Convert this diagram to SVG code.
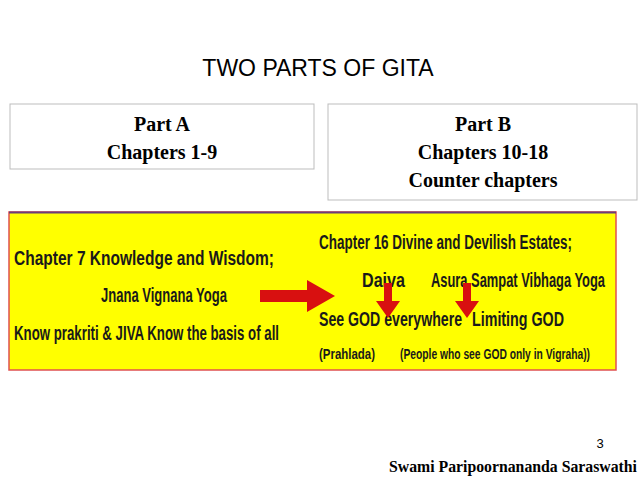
<svg xmlns="http://www.w3.org/2000/svg" width="638" height="478" viewBox="0 0 638 478">
<style>
.t{font-family:"Liberation Serif",serif;font-weight:bold;font-size:20px;fill:#000;text-anchor:middle}
.c{font-family:"Liberation Sans",Arial,sans-serif;font-weight:bold;fill:#1a1a1a;font-size:20px}
.s{font-family:"Liberation Sans",Arial,sans-serif;font-weight:bold;fill:#1a1a1a;font-size:14px}
.box{fill:#fff;stroke:#bdbdbd;stroke-width:1}
.red{fill:#d81010}
</style>
<rect width="638" height="478" fill="#fff"/>
<text x="318" y="76" font-family="Liberation Sans,Arial,sans-serif" font-size="23" text-anchor="middle">TWO PARTS OF GITA</text>
<g id="partA"><rect class="box" x="10" y="104" width="304" height="65"/>
<text class="t" x="162" y="131">Part A</text><text class="t" x="162" y="159">Chapters 1-9</text></g>
<g id="partB"><rect class="box" x="328" y="104" width="309" height="96"/>
<text class="t" x="483" y="131">Part B</text><text class="t" x="483" y="159">Chapters  10-18</text><text class="t" x="483" y="187">Counter chapters</text></g>
<g id="panel">
<rect x="9" y="212" width="607" height="158" fill="#ffff00" stroke="#e05050" stroke-width="1.5"/>
<line x1="9" y1="212.5" x2="616" y2="212.5" stroke="#6a3d7a" stroke-width="2"/>
<text class="c" x="14" y="265" textLength="260" lengthAdjust="spacingAndGlyphs">Chapter 7 Knowledge and Wisdom;</text>
<text class="c" x="101" y="302" textLength="126" lengthAdjust="spacingAndGlyphs">Jnana Vignana Yoga</text>
<text class="c" x="14" y="340" textLength="265" lengthAdjust="spacingAndGlyphs">Know prakriti &amp; JIVA Know the basis of all</text>
<text class="c" x="319" y="249" textLength="253" lengthAdjust="spacingAndGlyphs">Chapter 16 Divine and Devilish Estates;</text>
<text class="c" x="362" y="287" textLength="43" lengthAdjust="spacingAndGlyphs">Daiva</text>
<text class="c" x="431" y="287" textLength="174" lengthAdjust="spacingAndGlyphs">Asura Sampat Vibhaga Yoga</text>
<text class="c" x="319" y="326" textLength="143" lengthAdjust="spacingAndGlyphs">See GOD everywhere</text>
<text class="c" x="472" y="326" textLength="92" lengthAdjust="spacingAndGlyphs">Limiting GOD</text>
<text class="s" x="319" y="359" textLength="56" lengthAdjust="spacingAndGlyphs">(Prahlada)</text>
<text class="s" x="400" y="359" textLength="190" lengthAdjust="spacingAndGlyphs">(People who see GOD only in Vigraha))</text>
</g>
<g id="connectors">
<polygon class="red" points="260,290 307,290 307,280 335,296 307,312 307,302 260,302"/>
<polygon class="red" points="384,283 392,283 392,301 400,301 388,318 376,301 384,301"/>
<polygon class="red" points="463,283 471,283 471,301 479,301 467,318 455,301 463,301"/>
</g>
<text x="600" y="448" font-family="Liberation Sans,Arial,sans-serif" font-size="13" text-anchor="middle">3</text>
<text x="389" y="472" font-family="Liberation Serif,serif" font-weight="bold" font-size="16" textLength="248" lengthAdjust="spacingAndGlyphs">Swami Paripoornananda Saraswathi</text>
</svg>
